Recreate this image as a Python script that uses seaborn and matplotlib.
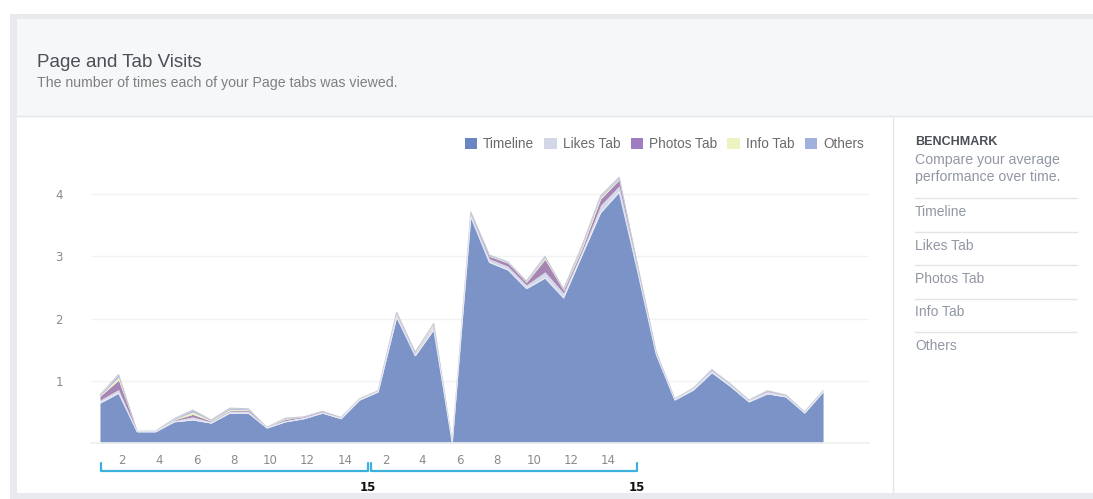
import matplotlib.pyplot as plt
from matplotlib.patches import Patch, Rectangle
import seaborn as sns
import pandas as pd

# daily page tab views (two half-month segments + tail)
timeline = [0.64, 0.80, 0.18, 0.18, 0.34, 0.37, 0.32, 0.48, 0.48, 0.24,
            0.34, 0.39, 0.48, 0.39, 0.69, 0.82, 2.02, 1.40, 1.82, 0.00,
            3.63, 2.90, 2.78, 2.48, 2.65, 2.33, 3.02, 3.70, 4.03, 2.75,
            1.42, 0.69, 0.85, 1.13, 0.91, 0.66, 0.79, 0.74, 0.48, 0.82]
likes_tab = [0.05, 0.06, 0.01, 0.01, 0.02, 0.05, 0.02, 0.03, 0.03, 0.01,
             0.02, 0.02, 0.02, 0.02, 0.02, 0.02, 0.04, 0.03, 0.05, 0.00,
             0.05, 0.06, 0.06, 0.06, 0.10, 0.08, 0.06, 0.12, 0.10, 0.06,
             0.03, 0.02, 0.03, 0.04, 0.04, 0.03, 0.04, 0.03, 0.02, 0.02]
photos_tab = [0.06, 0.15, 0.00, 0.00, 0.01, 0.04, 0.01, 0.01, 0.02, 0.00,
              0.02, 0.01, 0.01, 0.00, 0.00, 0.00, 0.01, 0.01, 0.01, 0.00,
              0.02, 0.04, 0.05, 0.04, 0.20, 0.04, 0.04, 0.10, 0.10, 0.02,
              0.01, 0.00, 0.00, 0.01, 0.00, 0.00, 0.01, 0.00, 0.00, 0.00]
info_tab = [0.01, 0.05, 0.00, 0.00, 0.01, 0.04, 0.01, 0.02, 0.01, 0.00,
            0.01, 0.00, 0.00, 0.00, 0.00, 0.00, 0.02, 0.01, 0.03, 0.00,
            0.00, 0.01, 0.01, 0.01, 0.03, 0.01, 0.03, 0.03, 0.02, 0.01,
            0.00, 0.00, 0.00, 0.00, 0.00, 0.00, 0.00, 0.00, 0.00, 0.00]
others = [0.01, 0.04, 0.00, 0.00, 0.01, 0.03, 0.01, 0.02, 0.01, 0.00,
          0.01, 0.00, 0.00, 0.00, 0.00, 0.00, 0.01, 0.01, 0.01, 0.00,
          0.01, 0.01, 0.01, 0.01, 0.02, 0.01, 0.02, 0.02, 0.02, 0.01,
          0.00, 0.00, 0.00, 0.00, 0.00, 0.00, 0.00, 0.00, 0.00, 0.00]

series_names = ["Timeline", "Likes Tab", "Photos Tab", "Info Tab", "Others"]
series_colors = ["#7b93c7", "#d6d9ea", "#a684b4", "#eef1c4", "#a9b8dc"]
legend_colors = ["#6a86c2", "#d3d6e6", "#a07cc0", "#eef2c0", "#9fb1dc"]

day_labels = ["2", "4", "6", "8", "10", "12", "14"] * 2
segment_labels = ["15", "15"]
y_ticks = [1, 2, 3, 4]
benchmark_items = ["Timeline", "Likes Tab", "Photos Tab", "Info Tab", "Others"]

df = pd.DataFrame({
    "day": range(len(timeline)),
    "Timeline": timeline,
    "Likes Tab": likes_tab,
    "Photos Tab": photos_tab,
    "Info Tab": info_tab,
    "Others": others,
})
df["total"] = df[series_names].sum(axis=1)

sns.set_theme(style="white")
plt.rcParams["font.family"] = ["Liberation Sans", "DejaVu Sans"]

W, H = 1093, 499
fig = plt.figure(figsize=(W / 100, H / 100), dpi=100)

# page frame drawn in pixel space
bg = fig.add_axes([0, 0, 1, 1])
bg.set_xlim(0, W)
bg.set_ylim(H, 0)
bg.axis("off")
bg.add_patch(Rectangle((10, 14), W, H, color="#e9eaed", lw=0))
bg.add_patch(Rectangle((17, 19), W, 97, color="#f6f7f9", lw=0))
bg.add_patch(Rectangle((17, 116), W, 377, color="white", lw=0))
bg.plot([17, W], [116, 116], color="#e3e4e8", lw=1)
bg.plot([893, 893], [116, 493], color="#e5e6e9", lw=1)
bg.text(37, 62, "Page and Tab Visits", fontsize=13.5, color="#4b4f56", va="center")
bg.text(37, 83, "The number of times each of your Page tabs was viewed.",
        fontsize=10.2, color="#7f7f7f", va="center")

# benchmark side panel
bg.text(915, 142, "BENCHMARK", fontsize=9, fontweight="bold", color="#4b4f56", va="center")
bg.text(915, 160, "Compare your average", fontsize=10.2, color="#9197a3", va="center")
bg.text(915, 177, "performance over time.", fontsize=10.2, color="#9197a3", va="center")
for k, item in enumerate(benchmark_items):
    y_line = 198 + k * 33.5
    bg.plot([915, 1077], [y_line, y_line], color="#e3e4e8", lw=1)
    bg.text(915, y_line + 14, item, fontsize=10, color="#9197a3", va="center")

# chart axes
ax = fig.add_axes([90.7 / W, (H - 443) / H, (869.4 - 90.7) / W, 4.6 * 62.25 / H])
ax.set_facecolor("none")
ax.stackplot(df["day"], [df[c] for c in series_names], colors=series_colors,
             linewidth=0, zorder=2)
sns.lineplot(x=df["day"], y=df["total"], color="#c8cad6", lw=0.8, ax=ax, zorder=3)
sns.lineplot(x=df["day"], y=df["Timeline"], color="#eef0f8", lw=0.6, ax=ax, zorder=3)

ax.set_xlim(-0.5, 41.5)
ax.set_ylim(0, 4.6)
ax.set_yticks(y_ticks)
ax.set_yticklabels([str(v) for v in y_ticks], fontsize=8.5, color="#8a8a8a",
                   family="DejaVu Sans")
ax.tick_params(axis="y", length=0, pad=20)
for v in y_ticks:
    ax.axhline(v, color="#f2f2f2", lw=1, zorder=1)

label_pos = [1.2 + 2 * k for k in range(7)] + [15.4 + 2 * k for k in range(7)]
ax.set_xticks(label_pos)
ax.set_xticklabels(day_labels, fontsize=8.5, color="#8a8a8a", family="DejaVu Sans")
ax.tick_params(axis="x", length=0, pad=8)
ax.set_xticks([1.5 + 2 * k for k in range(20)], minor=True)
ax.tick_params(axis="x", which="minor", length=3, color="#dddddd", width=1)
ax.set_xlabel("")
ax.set_ylabel("")
sns.despine(ax=ax, left=True, top=True, right=True, bottom=False)
ax.spines["bottom"].set_color("#f0f0f0")

# month brackets below the axis
seg_edges = [(0.05, 14.45), (14.6, 28.95)]
for (a, b), lab in zip(seg_edges, segment_labels):
    ax.plot([a, a, b, b], [-0.32, -0.45, -0.45, -0.32], color="#3cb0dc",
            lw=1.6, clip_on=False)
    ax.text(b, -0.71, lab, fontsize=8.5, fontweight="bold", color="#111111",
            ha="center", va="center", family="DejaVu Sans")

handles = [Patch(facecolor=c, edgecolor="none") for c in legend_colors]
fig.legend(handles, series_names, loc="center right", ncol=5, frameon=False,
           bbox_to_anchor=(876 / W, (H - 144) / H), fontsize=9.8,
           handlelength=0.9, handleheight=0.9, handletextpad=0.45,
           columnspacing=0.75, labelcolor="#6a6a6a")

fig.savefig("out.png", dpi=100)
